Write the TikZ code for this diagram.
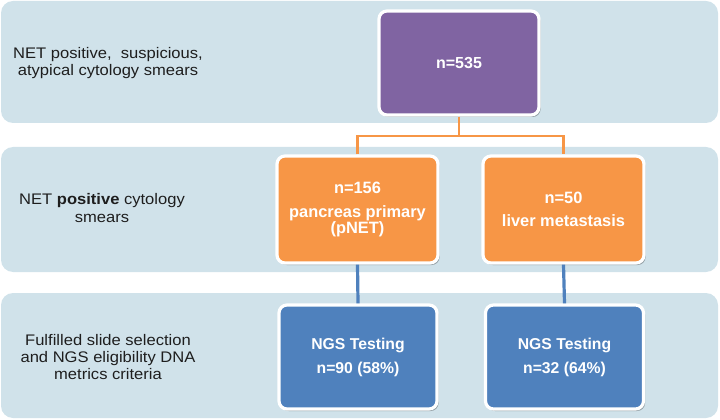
\documentclass[tikz,border=0pt]{standalone}
\usepackage{fontspec}
\setmainfont{Liberation Sans}
\newfontfamily\lblfont{Liberation Sans}[FakeStretch=1.08]
\usetikzlibrary{shadows}
\definecolor{bandc}{RGB}{208,226,234}
\definecolor{purplec}{RGB}{128,100,162}
\definecolor{orangec}{RGB}{247,150,70}
\definecolor{bluec}{RGB}{79,129,189}
\definecolor{txtc}{RGB}{30,30,30}
\tikzset{
  band/.style={fill=bandc, draw=none, rounded corners=9pt, minimum width={717*0.75pt}, inner sep=0pt},
  box/.style={draw=white, line width=2.4pt, rounded corners=6pt, inner sep=0pt,
    minimum width={160*0.75pt}, minimum height={104*0.75pt}, text=white, align=center,
    font=\bfseries\fontsize{11.8}{13.5}\selectfont,
    drop shadow={shadow xshift=1.2pt, shadow yshift=-1.5pt, fill=black, opacity=0.3}},
  obox/.style={box, fill=orangec, minimum width={161*0.75pt}, minimum height={107*0.75pt},
    font=\bfseries\fontsize{12.3}{14}\selectfont},
  lbl/.style={align=center, text=txtc, font=\lblfont\fontsize{11.5}{13}\selectfont, inner sep=0pt},
  oline/.style={draw=orangec, line width=2.2pt},
  bline/.style={draw=bluec, line width=2.4pt}
}
\begin{document}
\begin{tikzpicture}[x=0.75pt,y=-0.75pt]
\useasboundingbox (0,0) rectangle (720,420);
% bands
\node[band, minimum height={122*0.75pt}] (band1) at (359.5,62) {};
\node[band, minimum height={125*0.75pt}] (band2) at (359.5,209.5) {};
\node[band, minimum height={125*0.75pt}] (band3) at (359.5,355.5) {};
% left labels
\node[lbl] (l1) at (108,63) {NET positive,\ \ suspicious,\\ atypical cytology smears};
\node[lbl] (l2) at (102,208) {NET \textbf{positive} cytology\\ smears};
\node[lbl] (l3) at (108,357) {Fulfilled slide selection\\and NGS eligibility DNA\\metrics criteria};
% connectors junction
\coordinate (jn) at (459,136);
% boxes
\node[box, fill=purplec, font=\bfseries\fontsize{12}{14}\selectfont] (p) at (459,63) {n=535};
\node[obox] (o1) at (357.5,209.5) {n=156\\[4pt]pancreas primary\\[-2pt](pNET)};
\node[obox] (o2) at (563.5,209.5) {n=50\\[3pt]liver metastasis};
\node[box, fill=bluec, minimum width={158*0.75pt}] (b1) at (358,357) {NGS Testing\\[4.5pt]n=90 (58\%)};
\node[box, fill=bluec, minimum width={158*0.75pt}] (b2) at (564.5,357) {NGS Testing\\[4.5pt]n=32 (64\%)};
% connectors
\draw[oline] (p.south) -- (jn);
\draw[oline] (o1.north) |- (jn) -| (o2.north);
\draw[bline] (o1.south) -- (b1.north);
\draw[bline] (o2.south) -- (b2.north);
\end{tikzpicture}
\end{document}
